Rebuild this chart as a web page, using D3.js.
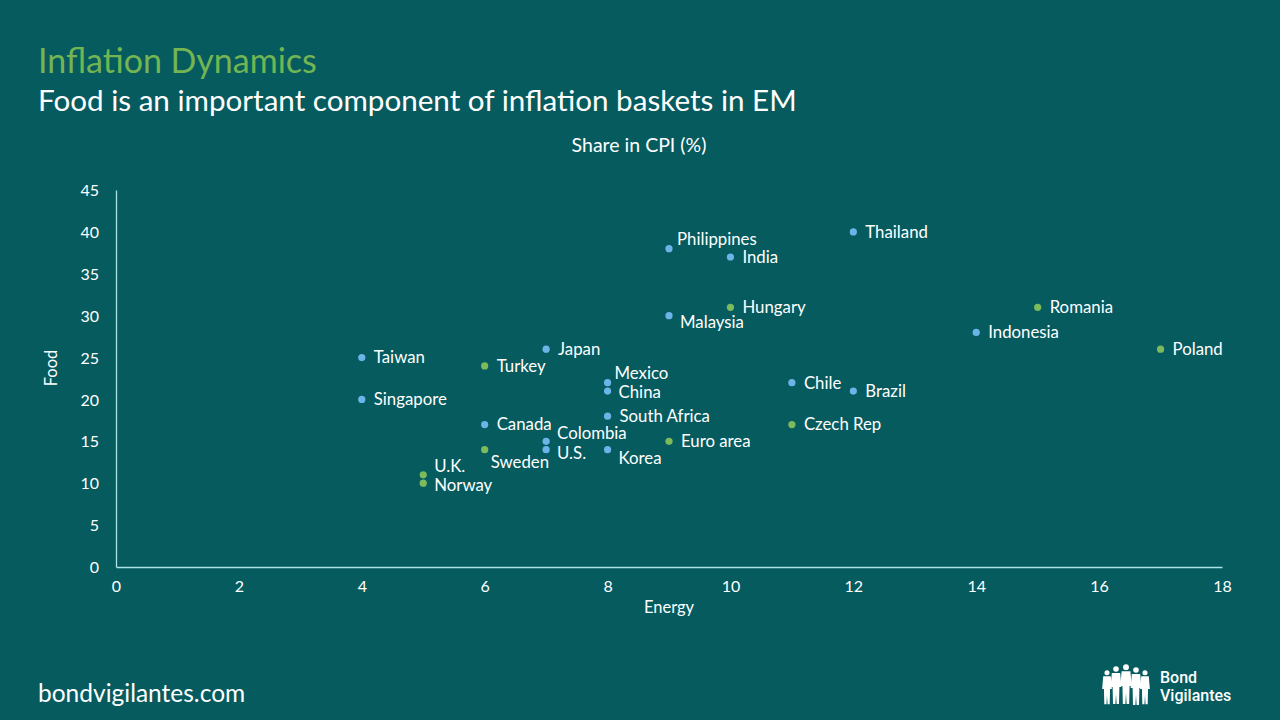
<!DOCTYPE html>
<html>
<head>
<meta charset="utf-8">
<script src="https://cdn.jsdelivr.net/npm/d3@7"></script>
<style>
  html, body { margin: 0; padding: 0; background: #065b5f; }
  svg { display: block; font-family: Lato, "Open Sans", sans-serif; }
</style>
</head>
<body>
<div id="chart"></div>
<script>
// data: share in CPI (%)
var countries = ["Taiwan", "Singapore", "Turkey", "Japan", "Mexico", "China", "South Africa",
  "Canada", "Colombia", "U.S.", "Sweden", "Korea", "Euro area", "U.K.", "Norway",
  "Philippines", "India", "Thailand", "Hungary", "Malaysia", "Chile", "Brazil",
  "Czech Rep", "Romania", "Indonesia", "Poland"];
var energy = [4, 4, 6, 7, 8, 8, 8, 6, 7, 7, 6, 8, 9, 5, 5, 9, 10, 12, 10, 9, 11, 12, 11, 15, 14, 17];
var food = [25, 20, 24, 26, 22, 21, 18, 17, 15, 14, 14, 14, 15, 11, 10, 38, 37, 40, 31, 30, 22, 21, 17, 31, 28, 26];
// "EM" group drawn in blue, "DM" / Europe group in green
var group = ["b", "b", "g", "b", "b", "b", "b", "b", "b", "b", "g", "b", "g", "g", "g",
  "b", "b", "b", "g", "b", "b", "b", "g", "g", "b", "g"];
var xTicks = [0, 2, 4, 6, 8, 10, 12, 14, 16, 18];
var yTicks = [0, 5, 10, 15, 20, 25, 30, 35, 40, 45];

// hand nudges of the labels that were moved to avoid overlaps
var nudge = {
  "Philippines": [8, -10], "Malaysia": [11, 6], "Mexico": [7, -10], "China": [11, 1],
  "U.K.": [11, -9], "Norway": [11, 2], "Sweden": [6, 12], "Colombia": [11, -8],
  "U.S.": [11, 3], "Korea": [11, 8]
};

var W = 1280, H = 720;
var x0 = 116, x1 = 1222, y0 = 567, y1 = 190;

var svg = d3.select("#chart").append("svg")
  .attr("width", W)
  .attr("height", H);

svg.append("rect").attr("width", W).attr("height", H).attr("fill", "#065b5f");

// titles
svg.append("text")
  .attr("x", 38).attr("y", 73)
  .attr("fill", "#72b552")
  .style("font-size", "34px")
  .text("Inflation Dynamics");
svg.append("text")
  .attr("x", 38).attr("y", 111)
  .attr("fill", "#ffffff")
  .style("font-size", "29.6px")
  .text("Food is an important component of inflation baskets in EM");
svg.append("text")
  .attr("x", 639).attr("y", 152)
  .attr("text-anchor", "middle")
  .attr("fill", "#ffffff")
  .style("font-size", "19.5px")
  .text("Share in CPI (%)");

var x = d3.scaleLinear().domain([0, 18]).range([x0, x1]);
var y = d3.scaleLinear().domain([0, 45]).range([y0, y1]);

// axes
var gx = svg.append("g")
  .attr("transform", "translate(0," + y0 + ")")
  .call(d3.axisBottom(x).tickValues(xTicks).tickSize(0).tickPadding(18));
var gy = svg.append("g")
  .attr("transform", "translate(" + x0 + ",0)")
  .call(d3.axisLeft(y).tickValues(yTicks).tickSize(0).tickPadding(17));

[gx, gy].forEach(function (g) {
  g.select(".domain").attr("stroke", "#a8e4e4").attr("stroke-width", 1.3);
  g.selectAll("text")
    .attr("fill", "#ffffff")
    .style("font-family", "Lato, 'Open Sans', sans-serif")
    .style("font-size", "16px");
});
gx.selectAll("text").attr("dy", "0.45em");
gy.selectAll("text").attr("dy", "0.35em");

svg.append("text")
  .attr("x", (x0 + x1) / 2).attr("y", 613)
  .attr("text-anchor", "middle")
  .attr("fill", "#ffffff")
  .style("font-size", "16.5px")
  .text("Energy");
svg.append("text")
  .attr("transform", "translate(57,368) rotate(-90)")
  .attr("text-anchor", "middle")
  .attr("fill", "#ffffff")
  .style("font-size", "16.5px")
  .text("Food");

// points and labels
var pts = countries.map(function (c, i) {
  return { name: c, e: energy[i], f: food[i], g: group[i] };
});
var color = { b: "#6cb4e8", g: "#7cba5c" };

var pg = svg.append("g");
pg.selectAll("circle")
  .data(pts)
  .enter().append("circle")
  .attr("cx", function (d) { return x(d.e); })
  .attr("cy", function (d) { return y(d.f); })
  .attr("r", 3.6)
  .attr("fill", function (d) { return color[d.g]; });

pg.selectAll("text")
  .data(pts)
  .enter().append("text")
  .attr("x", function (d) { return x(d.e) + (nudge[d.name] ? nudge[d.name][0] : 12); })
  .attr("y", function (d) { return y(d.f) + (nudge[d.name] ? nudge[d.name][1] : 0); })
  .attr("dy", "0.35em")
  .attr("fill", "#ffffff")
  .style("font-size", "16.8px")
  .text(function (d) { return d.name; });

// footer
svg.append("text")
  .attr("x", 38).attr("y", 702)
  .attr("fill", "#ffffff")
  .style("font-size", "24.5px")
  .text("bondvigilantes.com");

// logo: row of people silhouettes + name
var logo = svg.append("g").attr("transform", "translate(1103,664)");
var figs = [[4, 6, 0.9], [13, 2, 1.0], [23, 0, 1.05], [33, 3, 1.0], [42, 6, 0.9]];
figs.forEach(function (f) {
  var fx = f[0], fy = f[1], s = f[2];
  logo.append("circle").attr("cx", fx).attr("cy", fy + 3 * s).attr("r", 2.8 * s).attr("fill", "#fff");
  // torso with arms, then two legs with a gap
  logo.append("path")
    .attr("d", "M" + (fx - 4.2 * s) + "," + (fy + 7 * s) +
      " h" + (8.4 * s) + " l" + (1.2 * s) + "," + (14 * s) + " l" + (-2 * s) + ",0 l" + (-0.4 * s) + "," + (17 * s) +
      " h" + (-2.4 * s) + " l" + (-0.6 * s) + "," + (-10 * s) + " l" + (-0.6 * s) + "," + (10 * s) +
      " h" + (-2.4 * s) + " l" + (-0.4 * s) + "," + (-17 * s) + " l" + (-2 * s) + ",0 z")
    .attr("fill", "#fff");
});
logo.append("text").attr("x", 57).attr("y", 19).attr("fill", "#fff")
  .style("font-family", "Roboto, sans-serif").style("font-weight", 500).style("font-size", "16px").text("Bond");
logo.append("text").attr("x", 57).attr("y", 37).attr("fill", "#fff")
  .style("font-family", "Roboto, sans-serif").style("font-weight", 500).style("font-size", "16px").text("Vigilantes");
</script>
</body>
</html>
